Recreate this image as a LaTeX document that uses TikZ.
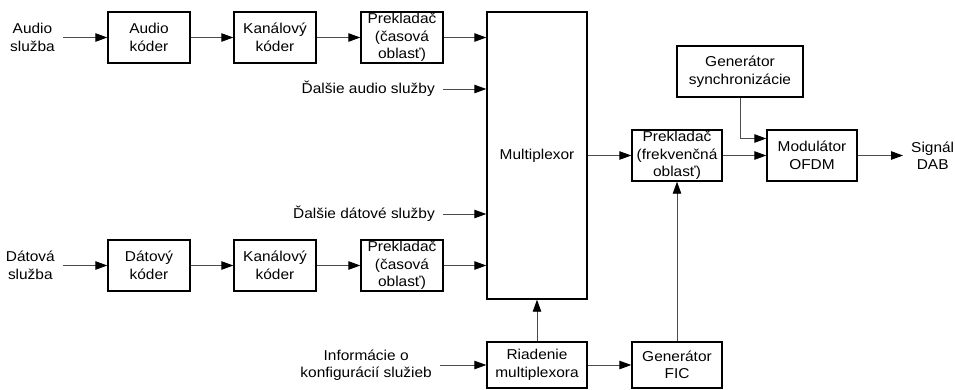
\documentclass[tikz,border=0pt]{standalone}
\usepackage{fontspec}
\setmainfont[FakeStretch=1.08]{Liberation Sans}
\usetikzlibrary{arrows.meta}
\newcommand{\rowA}{37.5}
\newcommand{\rowB}{265.5}
\newcommand{\rowC}{365}
\tikzset{
  block/.style={draw=black, line width=1.4pt, align=center, inner sep=0pt,
    minimum width=82pt, minimum height=51pt},
  wideblock/.style={block, minimum width=90pt},
  srctext/.style={align=center, inner xsep=8pt, inner ysep=0pt},
  link/.style={draw=black!70, line width=0.9pt,
    -{Triangle[length=12pt,width=8.5pt,black]}}
}

\begin{document}
\begin{tikzpicture}[x=1pt, y=-1pt,
    every node/.style={font=\fontsize{14.3}{17.5}\selectfont}]
  \useasboundingbox (0,0) rectangle (955,389);
  %
  % audio branch
  \node[srctext, anchor=east] (audsrc) at (63,\rowA) {Audio\\služba};
  \node[block] (audenc) at (149,\rowA) {Audio\\kóder};
  \node[block] (chenc1) at (275,\rowA) {Kanálový\\kóder};
  \node[block] (tint1) at (402,\rowA) {Prekladač\\(časová\\oblasť)};

  \node[srctext, anchor=east] (moreaud) at (443,89) {Ďalšie audio služby};
  \node[srctext, anchor=east] (moredat) at (443,214) {Ďalšie dátové služby};

  % data branch
  \node[srctext, anchor=east] (datsrc) at (63,\rowB) {Dátová\\služba};
  \node[block] (datenc) at (149,\rowB) {Dátový\\kóder};
  \node[block] (chenc2) at (275,\rowB) {Kanálový\\kóder};
  \node[block] (tint2) at (402,\rowB) {Prekladač\\(časová\\oblasť)};

  % multiplexor and control
  \node[block, minimum width=100pt, minimum height=287pt] (mux)
    at (537,155.5) {Multiplexor};
  \node[srctext, anchor=east] (info) at (440,\rowC)
    {Informácie o\\konfigurácií služieb};
  \node[block, minimum width=100pt, minimum height=46pt] (mctl)
    at (537,\rowC) {Riadenie\\multiplexora};
  \node[wideblock, minimum height=46pt] (fic) at (677,\rowC) {Generátor\\FIC};

  % output chain
  \node[wideblock] (tfreq) at (677,155.5) {Prekladač\\(frekvenčná\\oblasť)};
  \node[block, minimum width=126pt] (sync) at (740,71.5)
    {Generátor\\synchronizácie};
  \node[wideblock] (mod) at (812,155.5) {Modulátor\\OFDM};
  \node[srctext, anchor=west] (out) at (903,155.5) {Signál\\DAB};

  % connectors
  \draw[link] (audsrc.east) -- (audenc.west);
  \draw[link] (audenc.east) -- (chenc1.west);
  \draw[link] (chenc1.east) -- (tint1.west);
  \draw[link] (tint1.east) -- (mux.west |- tint1.east);
  \draw[link] (moreaud.east) -- (mux.west |- moreaud.east);
  \draw[link] (moredat.east) -- (mux.west |- moredat.east);
  \draw[link] (datsrc.east) -- (datenc.west);
  \draw[link] (datenc.east) -- (chenc2.west);
  \draw[link] (chenc2.east) -- (tint2.west);
  \draw[link] (tint2.east) -- (mux.west |- tint2.east);
  \draw[link] (info.east) -- (mctl.west);
  \draw[link] (mctl.north) -- (mux.south);
  \draw[link] (mctl.east) -- (fic.west);
  \draw[link] (fic.north) -- (tfreq.south);
  \draw[link] (mux.east |- tfreq.west) -- (tfreq.west);
  \draw[link] (tfreq.east) -- (mod.west);
  \draw[link] (sync.south) |- ([yshift=17pt]mod.west);
  \draw[link] (mod.east) -- (out.west);
\end{tikzpicture}
\end{document}
